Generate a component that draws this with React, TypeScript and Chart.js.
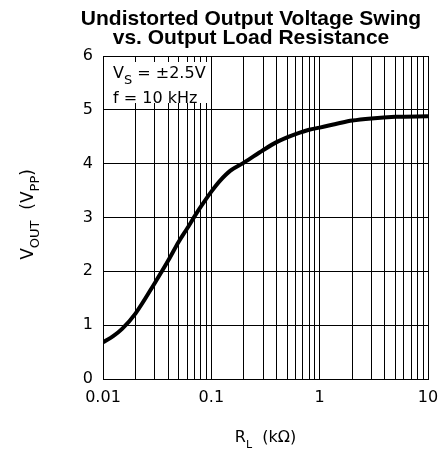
import React, { useEffect, useRef } from "react";
import { Chart, registerables } from "chart.js";

Chart.register(...registerables);

// ---- data ----
const loadResistanceK = [0.01, 0.0125, 0.015, 0.02, 0.03, 0.04, 0.05, 0.06, 0.07, 0.08, 0.1, 0.12, 0.15, 0.2, 0.3, 0.4, 0.5, 0.6, 0.8, 1, 1.5, 2, 3, 5, 10];
const outputSwingVpp = [0.68, 0.8, 0.93, 1.22, 1.78, 2.2, 2.55, 2.8, 3.02, 3.2, 3.48, 3.68, 3.87, 4.02, 4.25, 4.4, 4.49, 4.55, 4.63, 4.67, 4.75, 4.8, 4.84, 4.87, 4.88];

const xDecades = [0.01, 0.1, 1];
const xMajorTicks = [0.01, 0.1, 1, 10];
const xTickLabels = ["0.01", "0.1", "1", "10"];
const yTickValues = [0, 1, 2, 3, 4, 5, 6];

const titleLines = ["Undistorted Output Voltage Swing", "vs. Output Load Resistance"];

const TICK_FONT = "DejaVu Sans";

function buildXGrid(): number[] {
  const out: number[] = [];
  xDecades.forEach((d) => {
    for (let m = 1; m <= 9; m++) out.push(+(d * m).toPrecision(3));
  });
  out.push(10);
  return out;
}

function drawSub(ctx: CanvasRenderingContext2D, parts: { t: string; sub?: boolean }[], x: number, y: number, size: number, subSize: number, align: "center" | "left") {
  let total = 0;
  parts.forEach((p) => {
    ctx.font = `${p.sub ? subSize : size}px "${TICK_FONT}"`;
    total += ctx.measureText(p.t).width;
  });
  let cx = align === "center" ? x - total / 2 : x;
  ctx.textAlign = "left";
  ctx.textBaseline = "alphabetic";
  parts.forEach((p) => {
    ctx.font = `${p.sub ? subSize : size}px "${TICK_FONT}"`;
    ctx.fillText(p.t, cx, p.sub ? y + size * 0.35 : y);
    cx += ctx.measureText(p.t).width;
  });
}

const textPlugin = {
  id: "textPlugin",
  beforeDatasetsDraw(chart: any) {
    const ctx = chart.ctx as CanvasRenderingContext2D;
    const a = chart.chartArea;
    // annotation box
    ctx.save();
    ctx.fillStyle = "#fff";
    ctx.fillRect(a.left + 1, a.top + 6, 104, 41);
    ctx.fillStyle = "#000";
    drawSub(ctx, [{ t: "V" }, { t: "S", sub: true }, { t: " = " }, { t: "±" }, { t: "2.5V" }], a.left + 10, a.top + 22, 16, 13, "left");
    drawSub(ctx, [{ t: "f = 10 kHz" }], a.left + 10, a.top + 47, 16, 13, "left");
    ctx.restore();
  },
  afterDraw(chart: any) {
    const ctx = chart.ctx as CanvasRenderingContext2D;
    const a = chart.chartArea;
    ctx.save();
    ctx.fillStyle = "#000";
    // title
    ctx.font = 'bold 21px "Liberation Sans"';
    ctx.textAlign = "center";
    ctx.textBaseline = "alphabetic";
    ctx.fillText(titleLines[0], 251, 25);
    ctx.fillText(titleLines[1], 251, 44);
    // x axis title
    drawSub(ctx, [{ t: "R" }, { t: "L", sub: true }, { t: "  (kΩ)" }], (a.left + a.right) / 2, 442, 16, 11, "center");
    // y axis title
    ctx.translate(33, (a.top + a.bottom) / 2 - 3);
    ctx.rotate(-Math.PI / 2);
    drawSub(ctx, [{ t: "V" }, { t: "OUT", sub: true }, { t: "  (V" }, { t: "PP", sub: true }, { t: ")" }], 0, 0, 17, 13, "center");
    ctx.restore();
  },
};

export default function App() {
  const ref = useRef<HTMLCanvasElement | null>(null);
  useEffect(() => {
    document.body.style.margin = "0";
    const xGrid = buildXGrid();
    const chart = new Chart(ref.current!, {
      type: "line",
      data: {
        datasets: [
          {
            data: loadResistanceK.map((x, i) => ({ x, y: outputSwingVpp[i] })),
            borderColor: "#000",
            borderWidth: 4,
            pointRadius: 0,
            cubicInterpolationMode: "monotone",
            fill: false,
          },
        ],
      },
      options: {
        animation: false,
        responsive: false,
        devicePixelRatio: 1,
        layout: { padding: { left: 0, right: 10, top: 56, bottom: 0 } },
        plugins: { legend: { display: false }, title: { display: false }, tooltip: { enabled: false } },
        scales: {
          x: {
            type: "logarithmic",
            min: 0.01,
            max: 10,
            afterBuildTicks: (s: any) => {
              s.ticks = xGrid.map((v) => ({ value: v }));
            },
            afterFit: (s: any) => {
              s.height = 73;
              s.paddingLeft = 0;
              s.paddingRight = 0;
            },
            ticks: {
              autoSkip: false,
              maxRotation: 0,
              padding: 9,
              color: "#000",
              font: { family: TICK_FONT, size: 16 },
              callback: (v: any) => {
                const idx = xMajorTicks.findIndex((m) => Math.abs(m - Number(v)) / m < 1e-6);
                return idx >= 0 ? xTickLabels[idx] : "";
              },
            },
            grid: { color: "#000", lineWidth: 1, drawTicks: false, tickLength: 0 },
            border: { color: "#000", width: 1 },
          },
          y: {
            min: 0,
            max: 6,
            afterBuildTicks: (s: any) => {
              s.ticks = yTickValues.map((v) => ({ value: v }));
            },
            afterFit: (s: any) => {
              s.width = 103;
              s.paddingTop = 0;
              s.paddingBottom = 0;
            },
            ticks: {
              padding: 10,
              color: "#000",
              font: { family: TICK_FONT, size: 16 },
            },
            grid: { color: "#000", lineWidth: 1, drawTicks: false, tickLength: 0 },
            border: { color: "#000", width: 1 },
          },
        },
      },
      plugins: [textPlugin],
    } as any);
    return () => chart.destroy();
  }, []);
  return <canvas ref={ref} width={438} height={452} style={{ display: "block", width: 438, height: 452 }} />;
}
